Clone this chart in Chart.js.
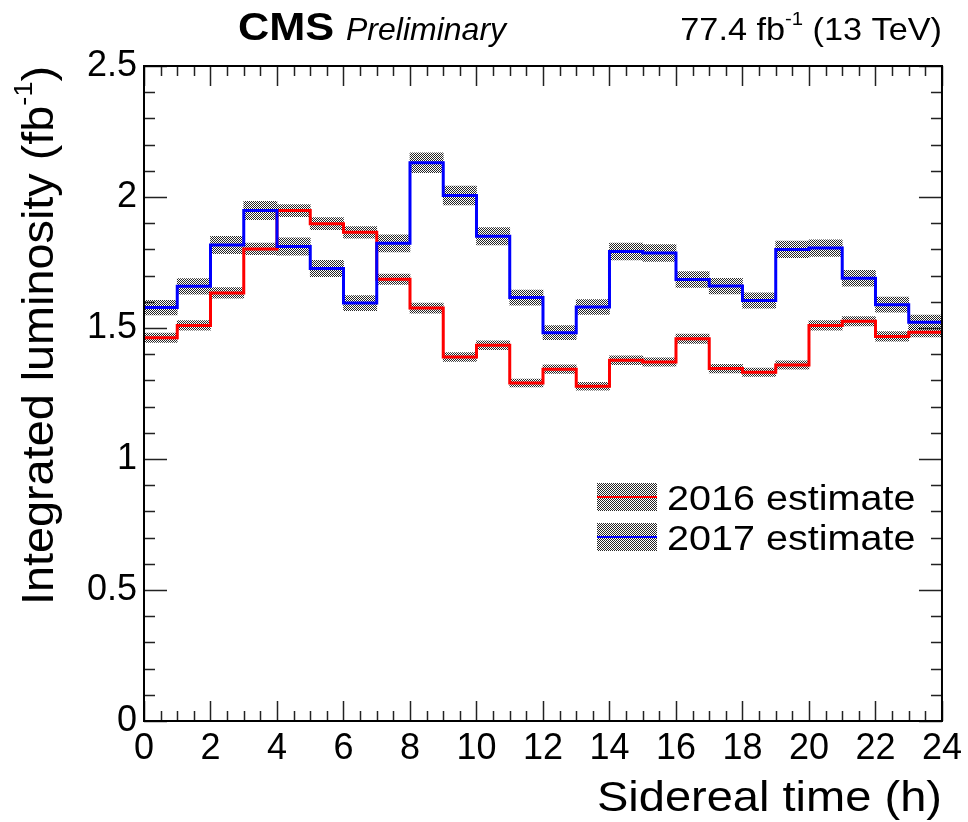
<!DOCTYPE html>
<html>
<head>
<meta charset="utf-8">
<script src="https://cdn.jsdelivr.net/npm/chart.js@4/dist/chart.umd.min.js"></script>
<style>
  html, body { margin: 0; padding: 0; background: #fff; }
  #wrap { width: 968px; height: 822px; }
</style>
</head>
<body>
<div id="wrap"><canvas id="lumiChart"></canvas></div>
<script>
// sidereal-time bins (h) and integrated luminosity per bin (fb^-1)
const binEdges = [0, 1, 2, 3, 4, 5, 6, 7, 8, 9, 10, 11, 12, 13, 14, 15, 16, 17, 18, 19, 20, 21, 22, 23, 24];
const lumi2016 = [1.463, 1.510, 1.634, 1.802, 1.948, 1.898, 1.865, 1.686, 1.576, 1.389, 1.434, 1.290,
                  1.343, 1.278, 1.377, 1.370, 1.459, 1.345, 1.331, 1.359, 1.510, 1.526, 1.468, 1.484];
const lumi2017 = [1.578, 1.659, 1.817, 1.948, 1.811, 1.727, 1.595, 1.823, 2.131, 2.006, 1.850, 1.616,
                  1.482, 1.580, 1.792, 1.786, 1.685, 1.660, 1.605, 1.800, 1.805, 1.690, 1.589, 1.522];
// half-widths of the uncertainty bands
const err2016 = [0.018, 0.018, 0.020, 0.022, 0.023, 0.023, 0.022, 0.020, 0.019, 0.017, 0.017, 0.015,
                 0.016, 0.015, 0.017, 0.016, 0.018, 0.016, 0.016, 0.016, 0.018, 0.018, 0.018, 0.018];
const err2017 = [0.028, 0.030, 0.033, 0.035, 0.033, 0.031, 0.029, 0.033, 0.038, 0.036, 0.033, 0.029,
                 0.027, 0.028, 0.032, 0.032, 0.030, 0.030, 0.029, 0.032, 0.032, 0.030, 0.029, 0.027];
const xTickLabels = [0, 2, 4, 6, 8, 10, 12, 14, 16, 18, 20, 22, 24];
const yTickLabels = [0, 0.5, 1, 1.5, 2, 2.5];

const FONT = "'Liberation Sans', Arial, Helvetica, sans-serif";

// ROOT-like checkerboard hatch
function hatch() {
  const c = document.createElement('canvas');
  c.width = 2; c.height = 2;
  const g = c.getContext('2d');
  g.fillStyle = 'rgba(0,0,0,0.85)';
  g.fillRect(0, 0, 1, 1);
  g.fillRect(1, 1, 1, 1);
  return g.createPattern(c, 'repeat');
}
const pattern = hatch();

function bandData(vals, errs) {
  return vals.map((v, i) => ({ x: (binEdges[i] + binEdges[i + 1]) / 2, y: [v - errs[i], v + errs[i]] }));
}
function stepData(vals) {
  return binEdges.map((x, i) => ({ x: x, y: vals[Math.min(i, vals.length - 1)] }));
}

// text drawn with a small horizontal stretch, parts may be superscripts
function drawParts(ctx, parts, x, y, opts) {
  ctx.save();
  ctx.translate(x, y);
  if (opts.rot) ctx.rotate(opts.rot);
  ctx.scale(opts.sx || 1, 1);
  let total = 0;
  parts.forEach(p => { ctx.font = p.font; p.w = ctx.measureText(p.text).width; total += p.w; });
  let cx = opts.align === 'right' ? -total : 0;
  ctx.fillStyle = '#000';
  ctx.textAlign = 'left';
  ctx.textBaseline = 'alphabetic';
  parts.forEach(p => { ctx.font = p.font; ctx.fillText(p.text, cx, -(p.rise || 0)); cx += p.w; });
  ctx.restore();
}

const decor = {
  id: 'decor',
  afterDatasetsDraw(chart) {
    const ctx = chart.ctx;
    const a = chart.chartArea;
    const xs = chart.scales.x, ys = chart.scales.y;
    ctx.save();
    // inward ticks on all four sides
    ctx.strokeStyle = '#222';
    ctx.lineWidth = 1.5;
    ctx.beginPath();
    for (let k = 0; k <= 48; k++) {
      const px = Math.round(xs.getPixelForValue(k / 2)) + 0.5;
      const len = k % 4 === 0 ? 20 : 10;
      ctx.moveTo(px, a.bottom); ctx.lineTo(px, a.bottom - len);
      ctx.moveTo(px, a.top); ctx.lineTo(px, a.top + len);
    }
    for (let k = 0; k <= 25; k++) {
      const py = Math.round(ys.getPixelForValue(k / 10)) + 0.5;
      const len = k % 5 === 0 ? 23 : 11;
      ctx.moveTo(a.left, py); ctx.lineTo(a.left + len, py);
      ctx.moveTo(a.right, py); ctx.lineTo(a.right - len, py);
    }
    ctx.stroke();
    // frame
    ctx.strokeStyle = '#000';
    ctx.lineWidth = 2;
    ctx.strokeRect(a.left, a.top, a.right - a.left, a.bottom - a.top);
    ctx.restore();

    // header
    drawParts(ctx, [{ text: 'CMS', font: 'bold 39px ' + FONT }], 238, 40, { sx: 1.11 });
    drawParts(ctx, [{ text: 'Preliminary', font: 'italic 32px ' + FONT }], 346, 40, {});
    drawParts(ctx, [
      { text: '77.4 fb', font: '32px ' + FONT },
      { text: '-1', font: '19px ' + FONT, rise: 15 },
      { text: ' (13 TeV)', font: '32px ' + FONT }
    ], 942, 40, { align: 'right', sx: 1.07 });

    // axis titles
    drawParts(ctx, [{ text: 'Sidereal time (h)', font: '42px ' + FONT }], a.right, 811, { align: 'right', sx: 1.12 });
    drawParts(ctx, [
      { text: 'Integrated luminosity (fb', font: '45px ' + FONT },
      { text: '-1', font: '26px ' + FONT, rise: 21 },
      { text: ')', font: '45px ' + FONT }
    ], 53, a.top, { align: 'right', rot: -Math.PI / 2, sx: 1.04 });

    // legend
    const entries = chart.data.datasets.filter(d => d.type === 'line');
    entries.forEach((d, i) => {
      const top = 483 + i * 40;
      ctx.save();
      ctx.fillStyle = pattern;
      ctx.fillRect(597, top, 60, 28);
      ctx.strokeStyle = d.borderColor;
      ctx.lineWidth = 2;
      ctx.beginPath();
      ctx.moveTo(597, top + 14); ctx.lineTo(657, top + 14);
      ctx.stroke();
      ctx.restore();
      drawParts(ctx, [{ text: d.label, font: '35px ' + FONT }], 667, top + 27, { sx: 1.13 });
    });
  }
};

const bandStyle = {
  type: 'bar',
  backgroundColor: pattern,
  borderWidth: 0,
  grouped: false,
  barPercentage: 1,
  categoryPercentage: 1
};
const lineStyle = {
  type: 'line',
  stepped: true,
  borderWidth: 3,
  pointRadius: 0,
  fill: false,
  tension: 0
};

new Chart(document.getElementById('lumiChart'), {
  type: 'bar',
  data: {
    datasets: [
      Object.assign({ label: '2017 band', data: bandData(lumi2017, err2017), order: 4 }, bandStyle),
      Object.assign({ label: '2016 band', data: bandData(lumi2016, err2016), order: 3 }, bandStyle),
      Object.assign({ label: '2016 estimate', data: stepData(lumi2016), borderColor: '#ff0000', order: 1 }, lineStyle),
      Object.assign({ label: '2017 estimate', data: stepData(lumi2017), borderColor: '#0000ff', order: 0 }, lineStyle)
    ]
  },
  options: {
    responsive: true,
    maintainAspectRatio: false,
    animation: false,
    layout: { padding: { top: 66, right: 19, left: 0, bottom: 0 } },
    plugins: { legend: { display: false }, tooltip: { enabled: false } },
    scales: {
      x: {
        type: 'linear',
        offset: false,
        min: 0,
        max: 24,
        grid: { display: false, drawTicks: false },
        border: { display: false },
        afterFit: s => { s.height = 101; },
        afterBuildTicks: s => { s.ticks = xTickLabels.map(v => ({ value: v })); },
        ticks: { font: { family: FONT, size: 36 }, color: '#000', padding: 6, maxRotation: 0, autoSkip: false,
                 callback: v => String(v) }
      },
      y: {
        min: 0,
        max: 2.5,
        grid: { display: false, drawTicks: false },
        border: { display: false },
        afterFit: s => { s.width = 144; },
        afterBuildTicks: s => { s.ticks = yTickLabels.map(v => ({ value: v })); },
        ticks: { font: { family: FONT, size: 36 }, color: '#000', padding: 7,
                 callback: v => String(v) }
      }
    }
  },
  plugins: [decor]
});
</script>
</body>
</html>
